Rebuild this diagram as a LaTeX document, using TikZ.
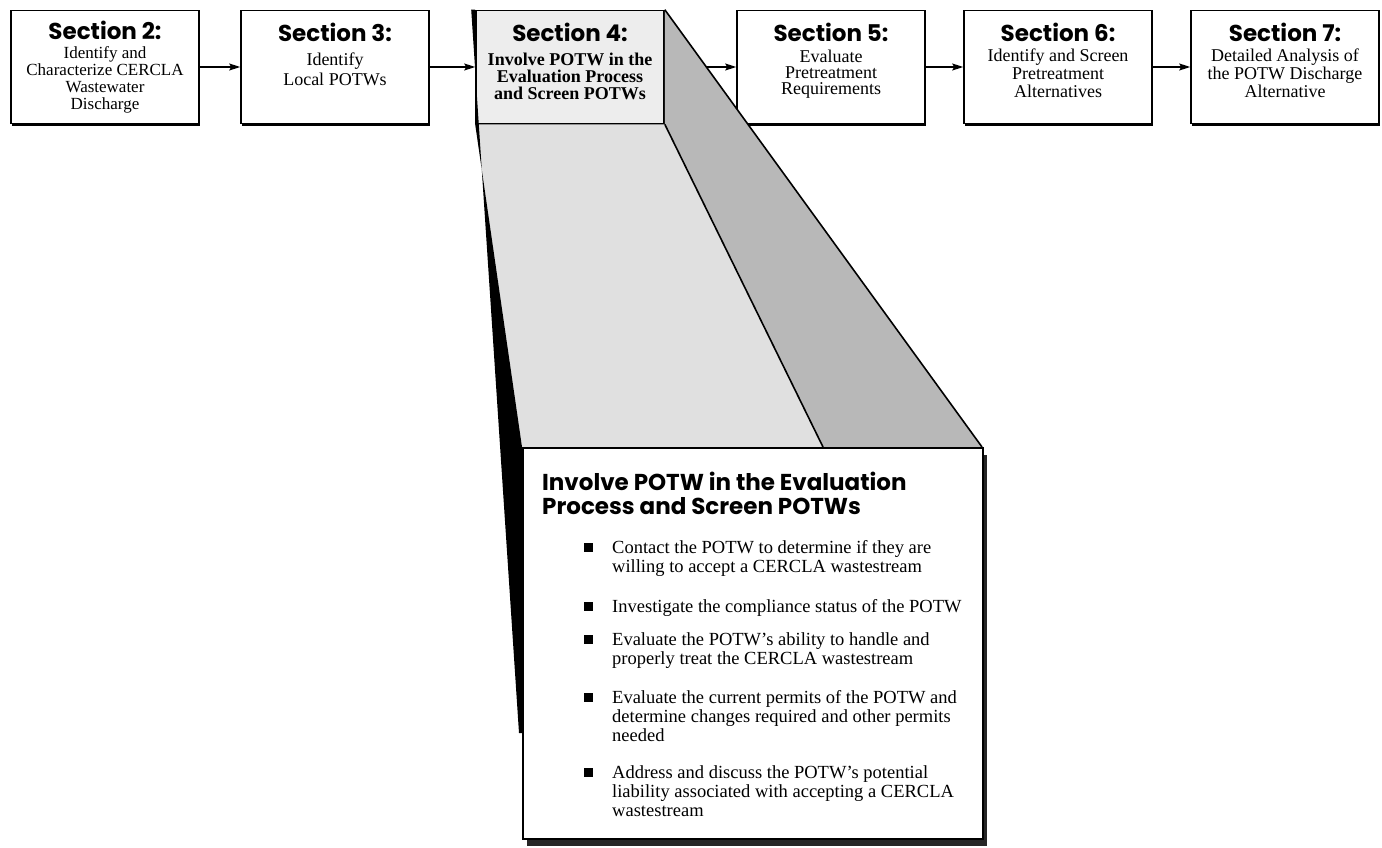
\documentclass[tikz,border=0pt]{standalone}
\usepackage{fontspec}
\setmainfont{Liberation Serif}
\newfontfamily\headfont{Poppins}
\usetikzlibrary{arrows.meta,shadows}

\begin{document}
\begin{tikzpicture}[x=1pt,y=-1pt,
  secbox/.style={draw,line width=1.6pt,fill=white,minimum width=188pt,minimum height=113pt,inner sep=0pt,
    drop shadow={shadow xshift=1pt,shadow yshift=-2.5pt,fill=black,opacity=1}},
  sechead/.style={anchor=base,inner sep=0pt,font=\headfont\bfseries\fontsize{23}{23}\selectfont},
  secbody/.style={anchor=base,align=center,inner sep=0pt,font=\fontsize{18}{18}\selectfont},
  flow/.style={line width=1.5pt,-{Stealth[length=11pt,width=7pt,inset=2pt]}},
  detailbox/.style={draw,line width=1.6pt,fill=white,minimum width=460pt,minimum height=391pt,inner sep=0pt,
    drop shadow={shadow xshift=4pt,shadow yshift=-7pt,fill=black!85,opacity=1}},
  bulletbox/.style={fill=black,minimum size=9pt,inner sep=0pt},
  itemtext/.style={anchor=base west,align=left,inner sep=0pt,font=\fontsize{18.5}{19}\selectfont}]
\fill[white] (0,0) rectangle (1382,848);
\useasboundingbox (0,0) rectangle (1382,848);

\node[secbox] (s2) at (105,67) {};
\node[secbox] (s3) at (335,67) {};
\node[secbox,fill=black!7] (s4) at (570,67) {};
\node[secbox] (s5) at (831,67) {};
\node[secbox] (s6) at (1058,67) {};
\node[secbox] (s7) at (1285,67) {};

\node[sechead] (s2h) at ([yshift=-30pt]s2.north) {Section 2:};
\node[sechead] (s3h) at ([yshift=-31.5pt]s3.north) {Section 3:};
\node[sechead] (s4h) at ([yshift=-31.5pt]s4.north) {Section 4:};
\node[sechead] (s5h) at ([yshift=-31.5pt]s5.north) {Section 5:};
\node[sechead] (s6h) at ([yshift=-31.5pt]s6.north) {Section 6:};
\node[sechead] (s7h) at ([yshift=-31.5pt]s7.north) {Section 7:};

\node[secbody,font=\fontsize{17}{17}\selectfont] (s2b) at ([yshift=-100pt]s2.north) {Identify and\\Characterize CERCLA\\Wastewater\\Discharge};
\node[secbody,font=\fontsize{18}{20}\selectfont] (s3b) at ([yshift=-75.5pt]s3.north) {Identify\\Local POTWs};
\node[secbody,font=\bfseries\fontsize{18}{17}\selectfont] (s4b) at ([yshift=-89.5pt]s4.north) {Involve POTW in the\\Evaluation Process\\and Screen POTWs};
\node[secbody,font=\fontsize{18}{16}\selectfont] (s5b) at ([yshift=-84.5pt]s5.north) {Evaluate\\Pretreatment\\Requirements};
\node[secbody] (s6b) at ([yshift=-87.5pt]s6.north) {Identify and Screen\\Pretreatment\\Alternatives};
\node[secbody] (s7b) at ([yshift=-87.5pt]s7.north) {Detailed Analysis of\\the POTW Discharge\\Alternative};

\draw[flow] (s2) -- (s3);
\draw[flow] (s3) -- (s4);
\draw[flow] (s4) -- (s5);
\draw[flow] (s5) -- (s6);
\draw[flow] (s6) -- (s7);

\coordinate (dnw) at (522,447);
\coordinate (dne) at (982,447);
\coordinate (fold) at (823,447);
\coordinate (tip) at (519,733);
\coordinate (wtop) at ([xshift=-4pt]s4.north west);

\fill[black!12] (s4.south west) -- (s4.south east) -- (fold) -- (dnw) -- cycle;
\fill[black!28] (s4.north east) -- (dne) -- (fold) -- (s4.south east) -- cycle;
\fill[black] (wtop) -- (tip) -- (tip -| dnw) -- (dnw) -- (s4.south west) -- (s4.north west) -- cycle;
\draw[line width=1.6pt] (s4.north east) -- (dne);
\draw[line width=1.6pt] (s4.south east) -- (fold);

\node[detailbox,anchor=north west] (detail) at (dnw) {};
\node[anchor=base west,align=left,inner sep=0pt,font=\headfont\bfseries\fontsize{23}{24}\selectfont] (dtitle) at (542,514) {Involve POTW in the Evaluation\\Process and Screen POTWs};

\foreach \n/\y/\k/\t in {1/553/2/{Contact the POTW to determine if they are\\willing to accept a CERCLA wastestream},
  2/612/1/{Investigate the compliance status of the POTW},
  3/645/2/{Evaluate the POTW's ability to handle and\\properly treat the CERCLA wastestream},
  4/703/3/{Evaluate the current permits of the POTW and\\determine changes required and other permits\\needed},
  5/778/3/{Address and discuss the POTW's potential\\liability associated with accepting a CERCLA\\wastestream}}{
  \node[bulletbox] (b\n) at (588,\y-6) {};
  \node[itemtext] (i\n) at (612,\y+19*\k-19) {\t};
}
\end{tikzpicture}
\end{document}
